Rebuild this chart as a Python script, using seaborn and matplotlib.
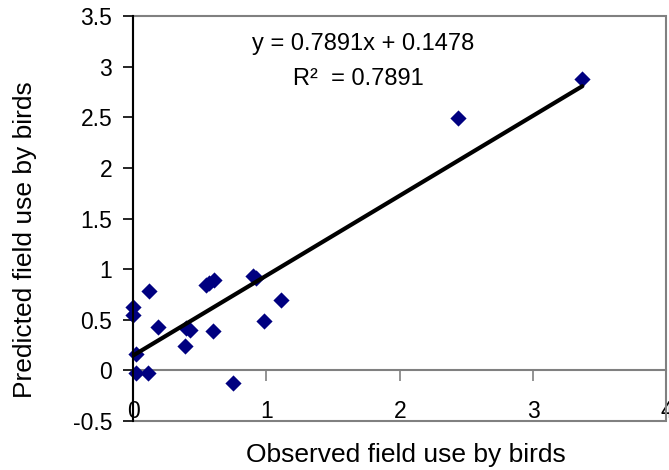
import numpy as np
import pandas as pd
import seaborn as sns
import matplotlib.pyplot as plt
from matplotlib.patches import Rectangle

# observed vs predicted field use
observed = [3.37, 2.44, 0.90, 0.92, 0.55, 0.57, 0.61, 0.12, 0.00, 0.00, 0.19,
            0.40, 0.43, 0.39, 0.60, 0.98, 1.11, 0.02, 0.02, 0.11, 0.75]
predicted = [2.88, 2.49, 0.93, 0.91, 0.84, 0.86, 0.89, 0.78, 0.63, 0.55, 0.43,
             0.42, 0.40, 0.24, 0.39, 0.49, 0.70, 0.16, -0.02, -0.02, -0.125]

# trendline as reported on the chart
slope = 0.7891
intercept = 0.1478
r_squared = 0.7891

x_ticks = [0, 1, 2, 3, 4]
y_ticks = [-0.5, 0, 0.5, 1, 1.5, 2, 2.5, 3, 3.5]

df = pd.DataFrame({'observed': observed, 'predicted': predicted})
fit_x = np.array([df.observed.min(), df.observed.max()])
fit = pd.DataFrame({'x': fit_x, 'y': slope * fit_x + intercept})

sns.set_style('white')
plt.rcParams['font.family'] = ['Liberation Sans', 'DejaVu Sans']
plt.rcParams['text.color'] = 'black'
plt.rcParams['xtick.labelcolor'] = 'black'
plt.rcParams['ytick.labelcolor'] = 'black'

fig = plt.figure(figsize=(6.69, 4.70), dpi=100)
ax = fig.add_axes([0.199, 0.104, 0.797, 0.862])

sns.scatterplot(data=df, x='observed', y='predicted', marker='D', s=68,
                color='#000080', edgecolor='#000080', linewidth=0, ax=ax,
                clip_on=False, zorder=3)
sns.lineplot(data=fit, x='x', y='y', color='black', linewidth=3, ax=ax, zorder=4)

ax.set_xlim(0, 4)
ax.set_ylim(-0.5, 3.5)
ax.set_xticks(x_ticks)
ax.set_xticklabels([str(t) for t in x_ticks])
ax.set_yticks(y_ticks)
ax.set_yticklabels([f'{t:g}' for t in y_ticks])
ax.set_xlabel('')
ax.set_ylabel('')

# excel style: x axis crosses at y=0, grey frame around plot area
gray = '#808080'
for side in ['top', 'right']:
    ax.spines[side].set_visible(False)
ax.spines['bottom'].set_position(('data', 0))
ax.spines['bottom'].set_color(gray)
ax.spines['bottom'].set_linewidth(1.5)
ax.spines['left'].set_color('black')
ax.spines['left'].set_linewidth(1.5)
ax.spines['left'].set_zorder(5)
ax.add_patch(Rectangle((0, 0), 1, 1, transform=ax.transAxes, fill=False,
                       edgecolor=gray, linewidth=1.5, clip_on=False, zorder=1))

ax.tick_params(axis='y', direction='out', length=7, width=1.2, color='black',
               labelsize=16.5, pad=8, left=True)
ax.tick_params(axis='x', direction='out', length=8, width=1.2, color=gray,
               labelsize=16.5, pad=13, bottom=True)

ax.text(0.2227, 0.916, f'y = {slope}x + {intercept}', transform=ax.transAxes,
        fontsize=17, ha='left', va='baseline')
ax.text(0.300, 0.830, f'R\u00b2  = {r_squared}', transform=ax.transAxes,
        fontsize=17, ha='left', va='baseline')

fig.text(406 / 669, 1 - 462 / 470, 'Observed field use by birds', fontsize=19,
         ha='center', va='baseline')
fig.text(25 / 669, 1 - 240 / 470, 'Predicted field use by birds', fontsize=19,
         rotation=90, ha='center', va='center')

fig.savefig('out.png', dpi=100)
